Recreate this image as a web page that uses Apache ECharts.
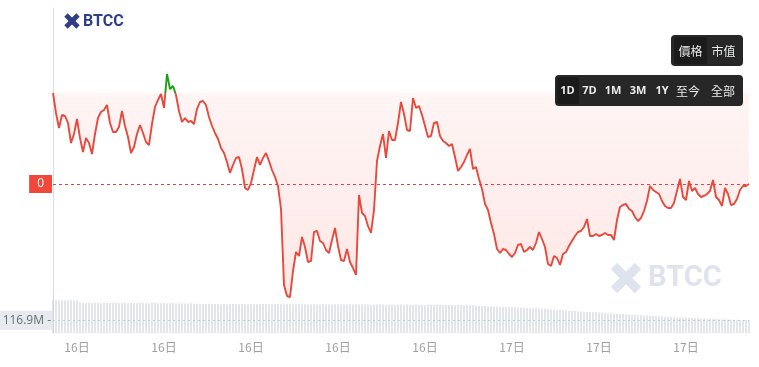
<!DOCTYPE html>
<html>
<head>
<meta charset="utf-8">
<script src="https://cdn.jsdelivr.net/npm/echarts@6/dist/echarts.min.js"></script>
<style>
html,body{margin:0;padding:0;background:#fff;}
#chart{width:759px;height:367px;}
</style>
</head>
<body>
<div id="chart"></div>
<script>
// Price (relative to the current price, which is labelled "0")
const prices = [
  91,71,56,69,68,61,41,50,65,46,
  32,46,41,30,50,66,72,74,79,61,
  52,52,57,73,58,47,31,37,50,59,
  51,42,39,60,77,84,90,76,110,95,
  98,89,73,62,66,62,63,60,75,82,
  83,79,67,58,51,45,36,31,22,11,
  19,26,27,15,-4,-6,1,14,27,19,
  26,31,23,14,7,-2,-25,-101,-112,-113,
  -87,-68,-72,-53,-63,-78,-77,-48,-47,-57,
  -59,-66,-69,-56,-44,-62,-76,-77,-65,-78,
  -84,-91,-11,-29,-32,-42,-49,-26,23,38,
  50,26,53,44,44,61,82,70,54,53,
  86,76,78,69,58,47,48,61,62,48,
  43,41,38,40,27,13,17,22,29,35,
  15,17,5,-5,-20,-26,-39,-50,-65,-69,
  -65,-66,-70,-73,-69,-61,-60,-68,-66,-63,
  -66,-59,-48,-55,-63,-80,-82,-72,-74,-81,
  -70,-68,-62,-57,-52,-48,-47,-43,-35,-52,
  -52,-50,-52,-51,-49,-51,-51,-56,-36,-23,
  -21,-20,-25,-27,-33,-37,-34,-27,-17,-2,
  -6,-8,-10,-17,-22,-24,-24,-19,-7,5,
  -13,-16,3,-7,-4,-10,-13,-12,-10,-7,
  4,-13,-16,-22,-4,-10,-21,-20,-15,-6,
  -2,-2,0
];

// Volume in millions
const volumes = [
  298,300,297,299,296,298,297,295,296,
  276,274,273,275,272,274,273,271,274,272,
  273,275,272,270,273,274,271,272,273,270,
  272,274,271,269,272,273,270,271,272,268,
  271,272,269,270,271,268,269,270,267,266,
  265,
  264,263,265,262,263,264,261,263,262,264,
  263,261,262,264,262,261,263,262,260,262,
  263,261,262,260,261,263,261,260,262,261,
  259,261,262,260,261,259,260,262,260,259,
  261,260,258,260,261,259,258,260,259,261,
  259,258,260,258,259,260,257,259,258,260,
  258,257,259,258,256,258,259,257,258,256,
  257,258,256,257,255,257,256,254,256,257,
  255,254,256,255,253,255,254,252,254,253,
  252,
  250,248,247,245,244,242,241,240,239,238,
  237,236,235,233,232,231,229,228,226,225,224,222,221,220,218,
  215,213,211,209,207,205,203,201,199,197,195,
  193,192,190,189,188,186,185,
  182,180,179,177,175,174,172,170,168,166,
  164,163,161,160,158,157,155,153,152,150,148,
  147,146,144,143,142,140,139,138,136,135,133,
  132,131,130,129,128,127,126,125,124,123,122,121,120,119,118,117.5,116.9
];

const dayLabels = ['16日', '17日'];
const dayChangeIndex = 140;
const categories = prices.map((_, i) => i < dayChangeIndex ? dayLabels[0] : dayLabels[1]);

const rangeButtons = ['1D', '7D', '1M', '3M', '1Y', '至今', '全部'];
const modeButtons = ['價格', '市值'];

const openValue = prices[0];
const lastPrice = prices[prices.length - 1];
const lastVolume = volumes[volumes.length - 1];

const chart = echarts.init(document.getElementById('chart'), null, {renderer: 'canvas'});

const rangeX = [567.5, 589.5, 613, 638, 662, 688, 723];
const graphics = [];
const navy = '#2f3e86';
graphics.push({type:'rect', x:72, y:21, rotation:Math.PI/4, shape:{x:-8.5,y:-2.4,width:17,height:4.8}, style:{fill:navy}, z:10});
graphics.push({type:'rect', x:72, y:21, rotation:-Math.PI/4, shape:{x:-8.5,y:-2.4,width:17,height:4.8}, style:{fill:navy}, z:10});
graphics.push({type:'text', x:83, y:21.5, style:{text:'BTCC', fill:navy, font:'bold 16px Roboto, sans-serif', align:'left', verticalAlign:'middle'}, z:10});
const wm = '#dfe3ee';
graphics.push({type:'rect', x:626, y:278, rotation:Math.PI/4, shape:{x:-17,y:-4.5,width:34,height:9}, style:{fill:wm}, z:-1});
graphics.push({type:'rect', x:626, y:278, rotation:-Math.PI/4, shape:{x:-17,y:-4.5,width:34,height:9}, style:{fill:wm}, z:-1});
graphics.push({type:'text', x:648, y:279, style:{text:'BTCC', fill:wm, font:'bold 29px Roboto, sans-serif', align:'left', verticalAlign:'middle'}, z:-1});
graphics.push({type:'rect', shape:{x:671,y:35,width:72,height:31,r:4}, style:{fill:'#272727'}, z:10});
graphics.push({type:'rect', shape:{x:674,y:37,width:33,height:27,r:2}, style:{fill:'#1b1b1b'}, z:10});
graphics.push({type:'text', x:690.5, y:51, style:{text:modeButtons[0], fill:'#ececec', font:'12px "Noto Sans CJK TC"', align:'center', verticalAlign:'middle'}, z:11});
graphics.push({type:'text', x:723.5, y:51, style:{text:modeButtons[1], fill:'#e4ece6', font:'12px "Noto Sans CJK TC"', align:'center', verticalAlign:'middle'}, z:11});
graphics.push({type:'rect', shape:{x:555,y:75,width:188,height:31,r:4}, style:{fill:'#272727'}, z:10});
graphics.push({type:'rect', shape:{x:557,y:77,width:22,height:27,r:2}, style:{fill:'#1b1b1b'}, z:10});
rangeButtons.forEach((t, i) => {
  const cjk = /[^\x00-\x7f]/.test(t);
  graphics.push({type:'text', x:rangeX[i], y:91, style:{text:t, fill:'#ececec',
    font: cjk ? '12px "Noto Sans CJK TC"' : 'bold 11px "Open Sans", sans-serif', align:'center', verticalAlign:'middle'}, z:11});
});

const option = {
  animation: false,
  graphic: graphics,
  grid: [
    {left:53, right:10, top:8, height:292},
    {left:53, right:10, top:300, height:33}
  ],
  xAxis: [
    {type:'category', gridIndex:0, data:categories, boundaryGap:false, show:false},
    {type:'category', gridIndex:1, data:categories, boundaryGap:false,
      axisLine:{show:false}, axisTick:{show:false},
      axisLabel:{interval:(i) => i >= 8 && (i - 8) % 29 === 0, color:'#a0a0a0', fontSize:12, margin:8, fontFamily:'"Noto Sans CJK SC"'}}
  ],
  yAxis: [
    {type:'value', gridIndex:0, min:-116, max:176, axisLine:{show:true, lineStyle:{color:'#dcdcdc'}},
      axisLabel:{show:false}, axisTick:{show:false}, splitLine:{show:false}},
    {type:'value', gridIndex:1, min:0, max:300, axisLine:{show:true, lineStyle:{color:'#dcdcdc'}},
      axisLabel:{show:false}, axisTick:{show:false}, splitLine:{show:false}}
  ],
  visualMap: {
    show:false, type:'piecewise', seriesIndex:0, dimension:1,
    pieces:[{gt:openValue, lte:176, color:'#17a316'}, {gte:-116, lte:openValue, color:'#e9483c'}],
    outOfRange:{color:'#e9483c'}
  },
  series: [
    {
      type:'line', xAxisIndex:0, yAxisIndex:0, data:prices, showSymbol:false, symbol:'none',
      lineStyle:{width:1.9},
      areaStyle:{origin:openValue, color:new echarts.graphic.LinearGradient(0,0,0,1,[
        {offset:0, color:'rgba(244,90,78,0.08)'},
        {offset:0.5, color:'rgba(244,90,78,0.14)'},
        {offset:1, color:'rgba(244,90,78,0.2)'}
      ])},
      markLine:{
        silent:true, symbol:['none','none'],
        data:[{yAxis:lastPrice}],
        lineStyle:{color:'#d9473d', type:[3,3], width:1},
        label:{position:'start', formatter:(p) => String(p.value), color:'#fff', backgroundColor:'#f2473b',
          padding:[3,8,3,8], fontSize:12, lineHeight:12, distance:1, fontFamily:'"Open Sans", sans-serif'}
      },
      z:3
    },
    {
      type:'bar', xAxisIndex:1, yAxisIndex:1, data:volumes, barWidth:1,
      itemStyle:{color:'#c5ccd7'},
      markLine:{
        silent:true, symbol:['none','none'],
        data:[{yAxis:lastVolume}],
        lineStyle:{color:'#b9bec8', type:[2,3], width:1, opacity:0.7},
        label:{position:'start', formatter:(p) => p.value + 'M -', color:'#333', backgroundColor:'#dde1e8',
          padding:[4,1,3,9], fontSize:12, lineHeight:12, distance:1, fontFamily:'"Open Sans", sans-serif'}
      }
    }
  ]
};
chart.setOption(option);
</script>
</body>
</html>
